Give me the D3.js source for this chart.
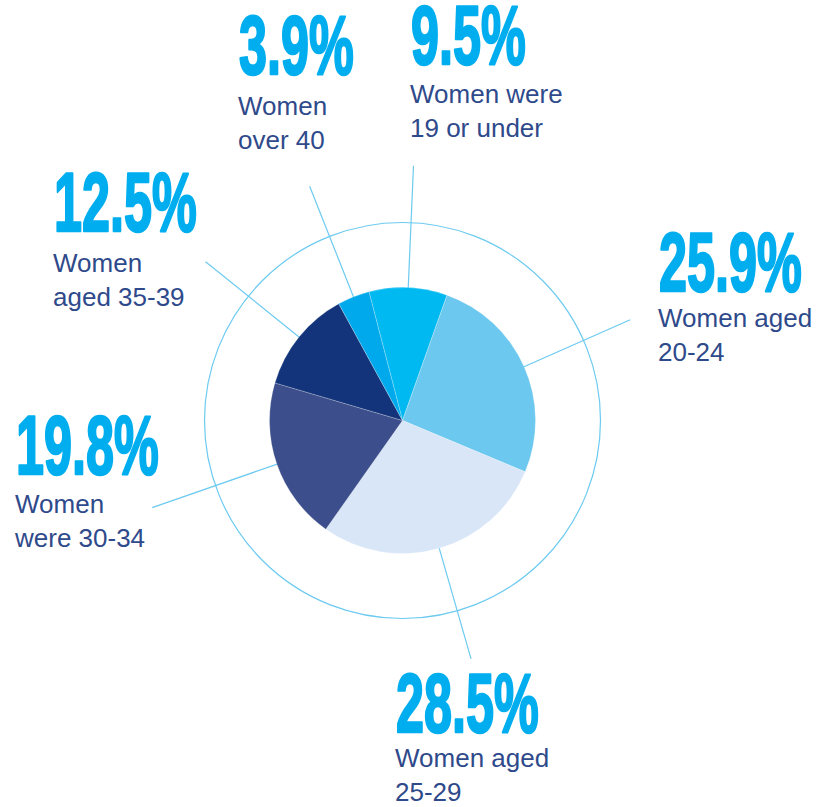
<!DOCTYPE html>
<html>
<head>
<meta charset="utf-8">
<script src="https://cdn.jsdelivr.net/npm/d3@7"></script>
<style>
  html, body { margin: 0; padding: 0; background: #fff; }
  svg { display: block; }
</style>
</head>
<body>
<div id="pie-chart"></div>
<script>
// age groups, clockwise from the top
var categories = ['19 or under', '20-24', '25-29', '30-34', '35-39', 'over 40'];
var shares = [9.5, 25.9, 28.5, 19.8, 12.5, 3.9];
var labelLines = [
    ['Women were', '19 or under'],
    ['Women aged', '20-24'],
    ['Women aged', '25-29'],
    ['Women', 'were 30-34'],
    ['Women', 'aged 35-39'],
    ['Women', 'over 40']
];
var sliceColors = ['#00b9f1', '#6cc8ee', '#d8e6f8', '#3c4e8b', '#13347a', '#00a9ec'];

var width = 832,
    height = 807,
    cx = 402.5,
    cy = 420.5,
    radius = 133,
    ringRadius = 198;

// label placement: x, baseline of big number, baseline of first text line
var labelPos = [[410, 65, 103], [658, 292, 327], [395, 733, 767], [15, 475, 513], [53, 232, 272], [238, 75, 115]];
var leaderLen = [255, 249, 248, 265, 253, 252];
var lineHeight = 34;

var svg = d3.select('#pie-chart')
    .append('svg')
    .attr('width', width)
    .attr('height', height);

var g = svg.append('g')
    .attr('transform', 'translate(' + cx + ',' + cy + ')');

var pie = d3.pie()
    .value(function (d) { return d; })
    .sort(null)
    .startAngle(-0.255)
    .endAngle(-0.255 + 2 * Math.PI);

var arc = d3.arc()
    .outerRadius(radius)
    .innerRadius(0);

var arcs = pie(shares);

// outer ring
g.append('circle')
    .attr('r', ringRadius)
    .attr('fill', 'none')
    .attr('stroke', '#6ccaf0')
    .attr('stroke-width', 1.2);

// leader lines
g.selectAll('line.leader')
    .data(arcs)
    .enter().append('line')
    .attr('class', 'leader')
    .attr('x1', function (d) { return d3.pointRadial((d.startAngle + d.endAngle) / 2, radius - 2)[0]; })
    .attr('y1', function (d) { return d3.pointRadial((d.startAngle + d.endAngle) / 2, radius - 2)[1]; })
    .attr('x2', function (d, i) { return d3.pointRadial((d.startAngle + d.endAngle) / 2, leaderLen[i])[0]; })
    .attr('y2', function (d, i) { return d3.pointRadial((d.startAngle + d.endAngle) / 2, leaderLen[i])[1]; })
    .attr('stroke', '#6ccaf0')
    .attr('stroke-width', 1.2);

g.selectAll('path')
    .data(arcs)
    .enter().append('path')
    .attr('d', arc)
    .attr('fill', function (d, i) { return sliceColors[i]; })
    .attr('stroke', '#ffffff')
    .attr('stroke-opacity', 0.4)
    .attr('stroke-width', 0.6);

var fmt = d3.format('.1f');

var labels = svg.selectAll('g.label')
    .data(categories)
    .enter().append('g')
    .attr('class', 'label');

// big condensed percentages: bold Liberation Sans squeezed horizontally
labels.append('text')
    .attr('transform', function (d, i) {
        return 'translate(' + (labelPos[i][0] + 1) + ',' + (labelPos[i][1] - 1) + ') scale(0.6,1)';
    })
    .attr('font-family', '"Liberation Sans", Arial, sans-serif')
    .attr('font-weight', 'bold')
    .attr('font-size', 84)
    .attr('fill', '#00aeef')
    .attr('stroke', '#00aeef')
    .attr('stroke-width', 2.5)
    .attr('stroke-linejoin', 'round')
    .text(function (d, i) { return fmt(shares[i]) + '%'; });

labels.each(function (d, i) {
    d3.select(this).selectAll('text.sub')
        .data(labelLines[i])
        .enter().append('text')
        .attr('class', 'sub')
        .attr('x', labelPos[i][0])
        .attr('y', function (t, j) { return labelPos[i][2] + j * lineHeight; })
        .attr('font-family', '"Liberation Sans", Arial, sans-serif')
        .attr('font-size', 26)
        .attr('fill', '#2f4a8b')
        .text(function (t) { return t; });
});
</script>
</body>
</html>
